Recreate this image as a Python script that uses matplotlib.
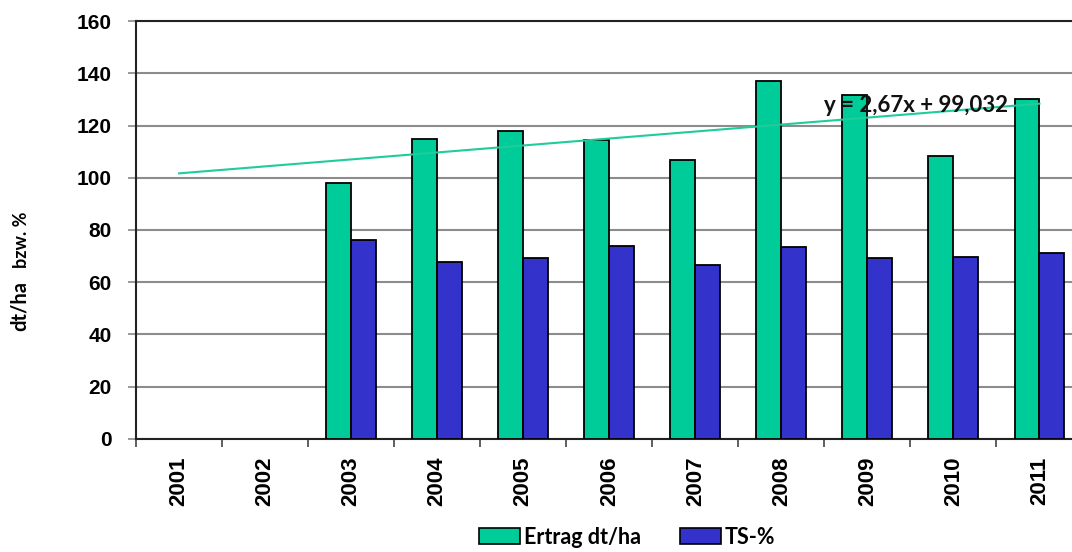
import numpy as np
import matplotlib
matplotlib.use("Agg")
import matplotlib.pyplot as plt
from matplotlib.patches import Patch

years = ["2001", "2002", "2003", "2004", "2005", "2006", "2007", "2008", "2009", "2010", "2011"]
ertrag = [np.nan, np.nan, 98.0, 115.0, 118.0, 114.5, 106.8, 137.1, 131.8, 108.2, 130.3]
ts = [np.nan, np.nan, 76.2, 67.6, 69.4, 73.9, 66.6, 73.5, 69.2, 69.8, 71.3]
trend_slope = 2.67
trend_intercept = 99.032
yticks = [0, 20, 40, 60, 80, 100, 120, 140, 160]

green = "#00CC99"
blue = "#3333CC"

W, H = 1072, 552
fig = plt.figure(figsize=(W / 100, H / 100), dpi=100)
left, right, top, bottom = 136, 1082.5, 21.2, 438.8
ax = fig.add_axes([left / W, 1 - bottom / H, (right - left) / W, (bottom - top) / H])

x = np.arange(len(years))
bw = 0.29
ax.bar(x - bw / 2, ertrag, width=bw, color=green, edgecolor="black", linewidth=1.3, zorder=3)
ax.bar(x + bw / 2, ts, width=bw, color=blue, edgecolor="black", linewidth=1.3, zorder=3)

xi = x + 1
trend = trend_slope * xi + trend_intercept
ax.plot([x[0], x[-1]], [trend[0], trend[-1]], color="#20CC9A", linewidth=1.5, zorder=4)
fig.text(916 / W, 1 - 106 / H, "y = 2,67x + 99,032",
         ha="center", va="center", fontsize=16, fontweight="bold", family="Lato",
         color="#111111", zorder=5)

ax.set_xlim(-0.5, len(years) - 0.5)
ax.set_ylim(0, 160)
ax.set_yticks(yticks)
ax.set_yticklabels([str(v) for v in yticks], fontsize=15, fontweight="bold", family="Liberation Sans")
ax.tick_params(axis="y", direction="out", length=5.8, width=1.2, color="#888888", pad=11.5)

ax.set_xticks(x)
ax.set_xticklabels(years, rotation=90, fontsize=16, fontweight="bold", family="Liberation Sans")
ax.tick_params(axis="x", which="major", length=0, pad=13)
ax.set_xticks(np.arange(-0.5, len(years) - 0.4, 1.0), minor=True)
ax.tick_params(axis="x", which="minor", direction="out", length=5.8, width=1.2, color="#444444")

ax.grid(axis="y", color="#8c8c8c", linewidth=1.5, zorder=0)
ax.set_axisbelow(True)
for s in ["left", "bottom", "top"]:
    ax.spines[s].set_color("#222222")
    ax.spines[s].set_linewidth(1.5)
ax.spines["right"].set_visible(False)

# y-axis label
fig.text(30 / W, 1 - 331 / H, "dt/ha", rotation=90, ha="right", va="bottom",
         fontsize=14.5, fontweight="bold", family="Lato")
fig.text(30 / W, 1 - 268 / H, "bzw. %", rotation=90, ha="right", va="bottom",
         fontsize=13, fontweight="bold", family="Lato")

handles = [Patch(facecolor=green, edgecolor="black", linewidth=1.2, label="Ertrag dt/ha"),
           Patch(facecolor=blue, edgecolor="black", linewidth=1.2, label="TS-%")]
fig.legend(handles=handles, loc="center", bbox_to_anchor=(627 / W, 1 - 537 / H), ncol=2,
           frameon=False, prop={"family": "Lato", "weight": "bold", "size": 15.5},
           handlelength=1.9, handleheight=0.7, handletextpad=0.2, columnspacing=1.8)

fig.savefig("out.png", dpi=100)
